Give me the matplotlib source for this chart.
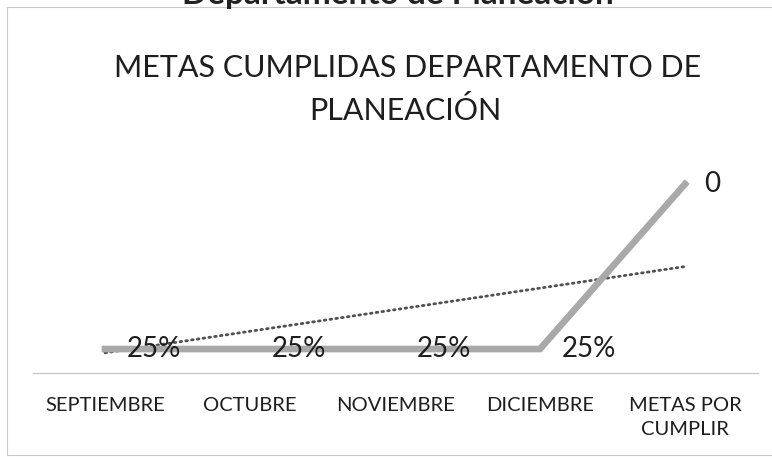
import matplotlib
matplotlib.use("Agg")
import matplotlib.pyplot as plt
from matplotlib.lines import Line2D

# ---- data ----
categories = ["SEPTIEMBRE", "OCTUBRE", "NOVIEMBRE", "DICIEMBRE", "METAS POR\nCUMPLIR"]
values = [0.25, 0.25, 0.25, 0.25, 1.97]
value_labels = ["25%", "25%", "25%", "25%", "0"]
trend_x = [0, 4]
trend_values = [0.21, 1.11]
title_lines = ["METAS CUMPLIDAS DEPARTAMENTO DE", "PLANEACIÓN"]
page_heading = "Departamento de Planeación"

plt.rcParams['font.family'] = ['Lato', 'DejaVu Sans']

W, H = 772, 457
fig = plt.figure(figsize=(W / 100, H / 100), dpi=100)
fig.patch.set_facecolor('white')

def px(x, y):
    return x / W, 1 - y / H

# frame of the chart (scanned border)
frame_col = '#c9c9c9'
fig.add_artist(Line2D([7 / W, 1.0], [1 - 7 / H, 1 - 7 / H], transform=fig.transFigure, color=frame_col, lw=0.8))
fig.add_artist(Line2D([7 / W, 7 / W], [1 - 7 / H, 1 - 455 / H], transform=fig.transFigure, color=frame_col, lw=0.8))
fig.add_artist(Line2D([7 / W, 1.0], [1 - 455 / H, 1 - 455 / H], transform=fig.transFigure, color=frame_col, lw=0.8))

# heading cut off at the top of the scan
fig.text(*px(398, 4), page_heading, ha='center', va='baseline', fontsize=24,
         fontweight='bold', color='#222222')

# chart title
fig.text(*px(408, 77), title_lines[0], ha='center', va='baseline', fontsize=22, color='#1e1e1e')
fig.text(*px(405, 120), title_lines[1], ha='center', va='baseline', fontsize=22, color='#1e1e1e')

ax = fig.add_axes([32.5 / W, (H - 373) / H, 725 / W, 211 / H])
ax.set_xlim(-0.5, 4.5)
ax.set_ylim(0, 2.2)
ax.set_facecolor('none')

x = list(range(len(categories)))
ax.plot(trend_x, trend_values, color='#505050', lw=2.0, linestyle=(0, (0.6, 1.5)),
        dash_capstyle='round', zorder=2)
ax.plot(x, values, color='#a9a9a9', lw=4.8, solid_joinstyle='miter', zorder=3)

for xi, v, lab in zip(x, values, value_labels):
    ax.annotate(lab, (xi, v), xytext=(16 if lab != "0" else 14, 0), textcoords='offset points',
                ha='left', va='center', fontsize=20, color='#1e1e1e', zorder=5)

for s in ['top', 'right', 'left']:
    ax.spines[s].set_visible(False)
ax.spines['bottom'].set_color('#c4c4c4')
ax.spines['bottom'].set_linewidth(0.9)
ax.set_yticks([])
ax.set_xticks(x)
ax.set_xticklabels(categories, fontsize=14.5, color='#1e1e1e', linespacing=1.55, va='top')
ax.tick_params(axis='x', length=0, pad=17)

fig.savefig('out.png', dpi=100, facecolor='white')
